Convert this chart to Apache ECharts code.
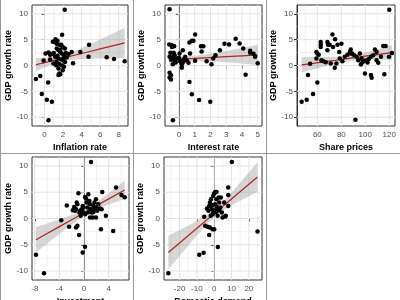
<!DOCTYPE html>
<html>
<head>
<meta charset="utf-8">
<script src="https://cdn.jsdelivr.net/npm/echarts@6/dist/echarts.min.js"></script>
<style>
  html, body { margin: 0; padding: 0; background: #fff; }
  #chart { width: 400px; height: 300px; }
</style>
</head>
<body>
<div id="chart"></div>
<script>
// shared y axis (GDP growth rate)
var yTicks = [-10, -5, 0, 5, 10];
var yMinor = [-7.5, -2.5, 2.5, 7.5];
var yRange = [-11.7, 11.7];

// panel 1: inflation rate
var inflationPts = [[2.18,10.8],[-0.93,-2.6],[-0.46,-2.05],[0.39,-3.3],[-0.29,-5.5],[0.25,-6.6],[0.79,-7.0],[0.43,-10.6],
  [4.8,4.0],[4.75,1.67],[6.7,1.6],[7.5,1.28],[8.64,0.83],[3.86,2.6],[2.93,2.6],[3.07,0.45],[1.9,5.96],[1.18,5.06],
  [1.12,4.55],[1.32,4.2],[1.6,4.0],[1.8,4.0],[1.96,3.6],[0.1,2.3],[0.43,2.5],[0.8,2.2],[0.6,2.1],[1.32,3.3],[1.5,2.95],
  [1.68,2.6],[1.86,2.3],[2.1,2.0],[2.3,2.4],[1.14,1.67],[1.5,1.35],[1.8,1.15],[2.04,0.9],[1.32,0.7],[1.6,0.26],[1.9,0.0],
  [1.5,-0.58],[1.6,-1.54],[1.5,-1.86],[1.7,-1.7],[2.2,0.7],[2.4,1.54],[-0.1,0.96],[0.6,1.15],[0.96,0.38],[1.25,0.06],
  [2.1,-0.26],[1.96,-0.9],[1.0,2.4],[1.4,1.9],[1.7,3.1],[2.0,1.3],[1.2,0.4],[0.9,4.6],[1.4,4.8],[2.6,2.2],[2.2,3.3]];
var inflationTicks = [0, 2, 4, 6, 8];
var inflationMinor = [-1, 1, 3, 5, 7];
var inflationFitX  = [-0.93, 0, 1, 2, 3, 4, 5, 6, 7, 8, 8.64];
var inflationFitY  = [0.15, 0.56, 1.0, 1.44, 1.88, 2.32, 2.76, 3.2, 3.64, 4.08, 4.36];
var inflationFitLo = [-1.13, -0.38, 0.36, 0.87, 1.13, 1.24, 1.30, 1.34, 1.37, 1.39, 1.41];
var inflationFitHi = [1.43, 1.5, 1.64, 2.01, 2.63, 3.4, 4.22, 5.06, 5.91, 6.77, 7.31];

// panel 2: interest rate
var interestPts = [[-0.59,10.9],[-0.38,-10.6],[-0.61,4.06],[-0.44,3.6],[-0.54,2.45],[-0.33,2.45],[-0.27,2.0],[-0.59,1.68],
  [-0.44,1.29],[-0.27,1.03],[-0.59,-1.42],[-0.5,-1.87],[-0.59,-2.3],[-0.5,-2.7],[-0.38,0.26],[-0.13,1.35],[0.04,2.3],
  [0.08,0.84],[0.19,0.26],[0.19,-0.45],[0.25,2.97],[0.4,1.68],[0.5,1.03],[0.29,0.71],[0.61,0.52],[0.67,4.45],[0.82,4.77],
  [0.92,4.77],[1.03,6.0],[0.71,2.3],[0.67,-3.2],[0.82,-5.55],[1.28,-6.65],[1.99,-7.03],[1.4,3.74],[1.55,3.74],[1.44,2.7],
  [1.03,0.9],[1.76,0.84],[2.07,0.26],[2.18,1.35],[2.32,2.0],[2.6,2.97],[2.89,4.2],[3.18,4.06],[3.6,5.16],[3.85,4.26],
  [4.08,3.29],[4.23,-1.8],[4.52,2.84],[4.52,2.45],[4.73,2.26],[4.83,1.68],[5.0,0.45],[-0.5,1.1],[-0.35,1.8],[-0.2,0.6],
  [0.0,1.5],[0.3,1.2],[-0.45,3.9],[-0.3,3.7]];
var interestTicks = [0, 1, 2, 3, 4, 5];
var interestMinor = [-0.5, 0.5, 1.5, 2.5, 3.5, 4.5];
var interestFitX  = [-0.59, 0, 1, 2, 3, 4, 5];
var interestFitY  = [1.1, 1.2, 1.37, 1.54, 1.71, 1.88, 2.05];
var interestFitLo = [0.25, 0.55, 0.87, 0.83, 0.63, 0.37, 0.11];
var interestFitHi = [1.95, 1.85, 1.87, 2.25, 2.79, 3.39, 3.99];

// panel 3: share prices
var sharePts = [[46.9,-7.0],[51.1,-6.6],[56.4,-5.5],[52.2,-1.86],[53.9,0.32],[60,-3.27],[59.2,2.63],[60,2.3],[61.1,2.1],
  [59.2,1.35],[62.8,4.55],[62.8,4.0],[62.8,3.6],[63.4,1.03],[65,0.83],[67,0.64],[68.4,4.55],[68.9,4.0],[68.4,2.95],
  [70.3,4.0],[71.2,0.38],[72.6,6.0],[74.8,5.1],[73.1,3.6],[74.5,-0.45],[75.9,0.38],[76.8,4.0],[78.2,2.63],[78.7,1.35],
  [80.1,4.23],[80.9,0.83],[82.9,1.67],[85.1,2.1],[87.1,2.63],[87.9,3.08],[87.9,2.3],[89,2.3],[90.7,2.0],[91.8,-10.5],
  [92.7,1.67],[94.1,1.03],[95.5,2.3],[96.9,1.35],[96.3,0.19],[97.7,0.64],[99.1,0.9],[99.7,-1.54],[101.1,1.03],[101.9,0.58],
  [103,1.28],[104.7,-1.86],[105.3,-2.37],[106.6,2.0],[104.7,1.67],[108,3.08],[109.4,2.63],[109.4,1.03],[110.8,0.51],
  [113.1,1.67],[115,3.78],[117,3.78],[115.9,-1.67],[119.8,1.67],[122.3,2.44],[120,10.8]];
var shareTicks = [60, 80, 100, 120];
var shareMinor = [50, 70, 90, 110];
var shareFitX  = [46.9, 55, 65, 75, 88, 100, 110, 122.3];
var shareFitY  = [0.13, 0.38, 0.7, 1.01, 1.42, 1.8, 2.11, 2.5];
var shareFitLo = [-1.37, -0.86, -0.24, 0.32, 0.87, 1.09, 1.14, 1.05];
var shareFitHi = [1.63, 1.62, 1.64, 1.7, 1.97, 2.51, 3.08, 3.95];

// panel 4: investment
var investmentPts = [[-7.8,-6.9],[-6.5,-10.4],[-3.7,-0.32],[1.13,10.76],[-2.8,2.47],[-2.42,-1.58],[-1.83,1.58],[-1.45,1.46],
  [-1.3,1.77],[-1.18,3.04],[-1.08,2.72],[-0.91,4.81],[-1.3,-1.7],[-1.08,-1.39],[-0.8,-3.16],[-0.22,-6.46],[0.16,-5.38],
  [-0.75,1.14],[-0.54,0.5],[-0.38,1.77],[-0.22,2.4],[-0.1,1.14],[0.16,4.11],[0.32,3.8],[0.43,3.04],[0.54,2.09],[0.7,4.62],
  [0.86,3.35],[0.97,2.72],[1.08,1.77],[1.24,1.14],[1.4,0.19],[1.5,2.4],[1.67,3.04],[1.77,1.77],[1.94,3.67],[2.04,2.09],
  [2.15,1.46],[2.31,2.72],[2.58,1.9],[2.85,1.77],[2.96,5.06],[2.74,-2.03],[1.94,0.19],[0.97,0.19],[3.55,0.5],[4.73,-2.4],
  [5.2,5.9],[6.08,4.49],[6.6,4.05],[-0.1,2.09],[-0.6,1.5],[0.7,1.2],[1.5,1.2],[0.2,0.8],[-1.6,2.2]];
var investmentTicks = [-8, -4, 0, 4];
var investmentMinor = [-6, -2, 2, 6];
var investmentFitX  = [-7.8, -6, -4, -2, 0, 0.6, 2, 4, 6.6];
var investmentFitY  = [-4.05, -2.86, -1.55, -0.23, 1.09, 1.48, 2.41, 3.73, 5.44];
var investmentFitLo = [-6.45, -4.78, -2.94, -1.14, 0.52, 0.93, 1.74, 2.64, 3.69];
var investmentFitHi = [-1.65, -0.94, -0.16, 0.68, 1.66, 2.03, 3.08, 4.82, 7.19];

// panel 5: domestic demand
var demandPts = [[-26.5,-10.4],[-8.65,-6.9],[-6.15,-6.5],[2.1,-5.4],[25,-2.47],[10.2,10.76],[-2.9,-3.16],[-5.8,0.32],
  [-5.2,-1.39],[-3.85,-1.58],[-2.5,-1.7],[-0.96,-2.03],[0,-2.03],[-4.2,1.9],[-2.9,2.4],[-3.3,1.46],[-2.5,3.04],[-1.9,3.67],
  [-1.35,1.77],[-0.96,0.82],[-0.58,4.3],[0,4.75],[0.58,5.06],[1.35,5.06],[0.58,2.72],[1.35,3.67],[1.9,1.77],[2.5,4.0],
  [2.9,3.04],[3.46,2.09],[3.85,4.0],[4.4,1.14],[4.8,0.19],[5.77,3.04],[6.7,0.5],[8.1,2.4],[8.1,4.49],[8.1,5.9],[6.35,0.38],
  [1.0,1.2],[-2.0,0.5],[2.0,0.5],[3.0,1.5],[0,1.5],[-1.0,2.5],[1.5,2.2],[-0.5,1.2]];
var demandTicks = [-20, -10, 0, 10, 20];
var demandMinor = [-25, -15, -5, 5, 15, 25];
var demandFitX  = [-26.5, -20, -10, 0, 1, 10, 20, 25];
var demandFitY  = [-6.46, -4.65, -1.86, 0.93, 1.21, 3.72, 6.51, 7.9];
var demandFitLo = [-9.66, -7.13, -3.25, 0.32, 0.61, 2.53, 4.25, 5.09];
var demandFitHi = [-3.26, -2.17, -0.47, 1.54, 1.81, 4.91, 8.77, 10.71];

var panels = [
  { name: 'Inflation rate', pts: inflationPts, ticks: inflationTicks, minor: inflationMinor, range: [-1.35, 9.0],
    fitX: inflationFitX, fitY: inflationFitY, lo: inflationFitLo, hi: inflationFitHi,
    box: { left: 32, top: 5, width: 96, height: 121 } },
  { name: 'Interest rate', pts: interestPts, ticks: interestTicks, minor: interestMinor, range: [-0.88, 5.27],
    fitX: interestFitX, fitY: interestFitY, lo: interestFitLo, hi: interestFitHi,
    box: { left: 165, top: 5, width: 97, height: 121 } },
  { name: 'Share prices', pts: sharePts, ticks: shareTicks, minor: shareMinor, range: [43, 124.8],
    fitX: shareFitX, fitY: shareFitY, lo: shareFitLo, hi: shareFitHi,
    box: { left: 297, top: 5, width: 98, height: 121 } },
  { name: 'Investment', pts: investmentPts, ticks: investmentTicks, minor: investmentMinor, range: [-8.45, 7.3],
    fitX: investmentFitX, fitY: investmentFitY, lo: investmentFitLo, hi: investmentFitHi,
    box: { left: 32, top: 157, width: 97, height: 123 } },
  { name: 'Domestic demand', pts: demandPts, ticks: demandTicks, minor: demandMinor, range: [-29, 27.6],
    fitX: demandFitX, fitY: demandFitY, lo: demandFitLo, hi: demandFitHi,
    box: { left: 164, top: 157, width: 98, height: 123 } }
];

var font = 'Liberation Sans, Arial, sans-serif';
var grids = [], xAxes = [], yAxes = [], series = [];

// grid lines + confidence band, drawn through the axes
function backdrop(p) {
  return function (params, api) {
    var cs = params.coordSys;
    var midX = (p.range[0] + p.range[1]) / 2;
    var kids = [];
    function vline(v, w) {
      var x = api.coord([v, 0])[0];
      kids.push({ type: 'line', shape: { x1: x, y1: cs.y, x2: x, y2: cs.y + cs.height },
        style: { stroke: '#e3e3e3', lineWidth: w } });
    }
    function hline(v, w) {
      var y = api.coord([midX, v])[1];
      kids.push({ type: 'line', shape: { x1: cs.x, y1: y, x2: cs.x + cs.width, y2: y },
        style: { stroke: '#e3e3e3', lineWidth: w } });
    }
    p.minor.forEach(function (v) { vline(v, 0.5); });
    yMinor.forEach(function (v) { hline(v, 0.5); });
    p.ticks.forEach(function (v) { vline(v, 1); });
    yTicks.forEach(function (v) { hline(v, 1); });
    var poly = [];
    for (var i = 0; i < p.fitX.length; i++) poly.push(api.coord([p.fitX[i], p.hi[i]]));
    for (var j = p.fitX.length - 1; j >= 0; j--) poly.push(api.coord([p.fitX[j], p.lo[j]]));
    kids.push({ type: 'polygon', shape: { points: poly }, style: { fill: 'rgba(153,153,153,0.4)' } });
    return { type: 'group', children: kids };
  };
}

panels.forEach(function (p, i) {
  grids.push({ left: p.box.left, top: p.box.top, width: p.box.width, height: p.box.height,
    outerBoundsMode: 'none', containLabel: false,
    show: true, backgroundColor: '#fff', borderColor: '#333', borderWidth: 1 });
  xAxes.push({
    type: 'value', gridIndex: i, min: p.range[0], max: p.range[1],
    name: p.name, nameLocation: 'middle', nameGap: 17,
    nameTextStyle: { fontFamily: font, fontSize: 9, fontWeight: 'bold', color: '#000' },
    axisLine: { show: true, lineStyle: { color: '#333', width: 1 } },
    axisTick: { show: true, length: 3, customValues: p.ticks, lineStyle: { color: '#333' } },
    axisLabel: { customValues: p.ticks, margin: 5, fontFamily: font, fontSize: 8, color: '#4d4d4d' },
    splitLine: { show: false }
  });
  yAxes.push({
    type: 'value', gridIndex: i, min: yRange[0], max: yRange[1],
    name: 'GDP growth rate', nameLocation: 'middle', nameGap: 17,
    nameTextStyle: { fontFamily: font, fontSize: 9, fontWeight: 'bold', color: '#000' },
    axisLine: { show: true, lineStyle: { color: '#333', width: 1 } },
    axisTick: { show: true, length: 3, customValues: yTicks, lineStyle: { color: '#333' } },
    axisLabel: { customValues: yTicks, margin: 4, fontFamily: font, fontSize: 8, color: '#4d4d4d' },
    splitLine: { show: false }
  });
  series.push({
    type: 'custom', xAxisIndex: i, yAxisIndex: i, z: 1, silent: true,
    data: [[(p.range[0] + p.range[1]) / 2, 0]],
    renderItem: backdrop(p)
  });
  series.push({
    type: 'line', xAxisIndex: i, yAxisIndex: i, z: 2, silent: true, symbol: 'none',
    data: p.fitX.map(function (x, k) { return [x, p.fitY[k]]; }),
    lineStyle: { color: '#b22222', width: 1.2 }
  });
  series.push({
    type: 'scatter', xAxisIndex: i, yAxisIndex: i, z: 3, symbolSize: 4.5,
    data: p.pts, itemStyle: { color: '#000', opacity: 1 }
  });
});

var chart = echarts.init(document.getElementById('chart'), null, { renderer: 'canvas' });
chart.setOption({
  animation: false,
  backgroundColor: '#fff',
  grid: grids,
  xAxis: xAxes,
  yAxis: yAxes,
  series: series,
  graphic: [
    { type: 'line', shape: { x1: 0.5, y1: 0, x2: 0.5, y2: 300 }, style: { stroke: '#999', lineWidth: 1 } },
    { type: 'line', shape: { x1: 133.5, y1: 0, x2: 133.5, y2: 300 }, style: { stroke: '#999', lineWidth: 1 } },
    { type: 'line', shape: { x1: 266.5, y1: 0, x2: 266.5, y2: 300 }, style: { stroke: '#999', lineWidth: 1 } },
    { type: 'line', shape: { x1: 0, y1: 153.5, x2: 400, y2: 153.5 }, style: { stroke: '#999', lineWidth: 1 } }
  ]
});
</script>
</body>
</html>
